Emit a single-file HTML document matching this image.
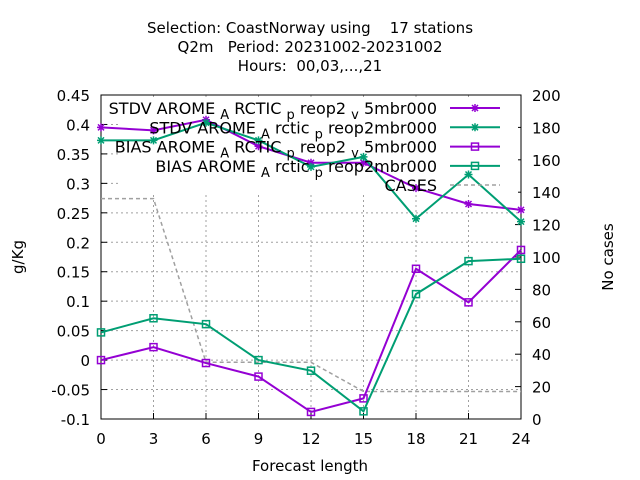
<!DOCTYPE html>
<html><head><meta charset="utf-8"><style>body{margin:0;background:#fff}svg{display:block;font-family:"DejaVu Sans","Liberation Sans",sans-serif}text{white-space:pre}</style></head>
<body>
<svg id="c" width="640" height="480"></svg>
<script>
const xCats=[0,3,6,9,12,15,18,21,24];
const stdvA=[0.395,0.39,0.408,0.363,0.335,0.335,0.292,0.265,0.255];
const stdvB=[0.373,0.373,0.403,0.373,0.328,0.345,0.24,0.315,0.235];
const biasA=[0.0,0.022,-0.005,-0.028,-0.088,-0.065,0.155,0.098,0.187];
const biasB=[0.047,0.071,0.061,0.0,-0.018,-0.087,0.112,0.168,0.172];
const cases=[136,136,35,35,35,17,17,17,17];
const yTicks=[-0.1,-0.05,0,0.05,0.1,0.15,0.2,0.25,0.3,0.35,0.4,0.45];
const y2Ticks=[0,20,40,60,80,100,120,140,160,180,200];
const L=101,R=521,T=95,B=419;
const X=v=>L+(v-0)/24*(R-L);
const Y=v=>B-(v+0.1)/0.55*(B-T);
const Y2=v=>B-v/200*(B-T);
const svg=document.getElementById('c');const NS='http://www.w3.org/2000/svg';
function el(t,a,p){const e=document.createElementNS(NS,t);for(const k in a)e.setAttribute(k,a[k]);(p||svg).appendChild(e);return e;}
function tx(x,y,s,anchor,name,extra){const e=el('text',Object.assign({x:x,y:y,'font-size':15,'text-anchor':anchor||'middle',fill:'#000'},extra||{}));e.textContent=s;return e;}
tx(310,33,'Selection: CoastNorway using    17 stations','middle','title-line1');
tx(310,52,'Q2m   Period: 20231002-20231002','middle','title-line2');
tx(310,71,'Hours:  00,03,...,21','middle','title-line3');
yTicks.forEach(v=>{const g=el('line',{x1:L,x2:R,y1:Y(v),y2:Y(v),stroke:'#a0a0a0','stroke-dasharray':'2,3'});
const t=el('line',{x1:L,x2:L+6,y1:Y(v),y2:Y(v),stroke:'#000'});
tx(L-11,Y(v)+6,String(v),'end','y-tick-label');});
xCats.forEach(v=>{const g=el('line',{x1:X(v),x2:X(v),y1:T,y2:B,stroke:'#a0a0a0','stroke-dasharray':'2,3'});
const t=el('line',{x1:X(v),x2:X(v),y1:B,y2:B-6,stroke:'#000'});
tx(X(v),B+25,String(v),'middle','x-tick-label');});
y2Ticks.forEach(v=>{const t=el('line',{x1:R-6,x2:R,y1:Y2(v),y2:Y2(v),stroke:'#000'});
tx(R+11,Y2(v)+6,String(v),'start','y2-tick-label');});
const lb=el('rect',{x:118,y:98,width:400,height:96,fill:'#fff'});
const fr=el('rect',{x:L,y:T,width:R-L,height:B-T,fill:'none',stroke:'#000'});
tx(310,471,'Forecast length','middle','x-axis-title');
tx(23,257,'g/Kg','middle','y-axis-title',{transform:'rotate(-90 23 257)'});
tx(613,257,'No cases','middle','y2-axis-title',{transform:'rotate(-90 613 257)'});
function star(x,y,c,g){el('path',{d:`M${x-4},${y}h8M${x},${y-4}v8M${x-3},${y-3}l6,6M${x-3},${y+3}l6,-6`,stroke:c,'stroke-width':1.5},g);}
function sq(x,y,c,g){el('rect',{x:x-3.5,y:y-3.5,width:7,height:7,fill:'none',stroke:c,'stroke-width':1.5},g);}
function series(vals,c,mk,name,fy,dash){const g=el('g',{});
const pts=vals.map((v,i)=>X(xCats[i])+','+fy(v)).join(' ');
el('polyline',{points:pts,fill:'none',stroke:c,'stroke-width':dash?1.5:2,'stroke-dasharray':dash||'none'},g);
if(mk)vals.forEach((v,i)=>mk(X(xCats[i]),fy(v),c,g));}
series(cases,'#a0a0a0',null,'series-cases',Y2,'4,3');
series(stdvA,'#9400d3',star,'series-stdv-arctic-v5',Y);
series(stdvB,'#009e73',star,'series-stdv-arctic',Y);
series(biasA,'#9400d3',sq,'series-bias-arctic-v5',Y);
series(biasB,'#009e73',sq,'series-bias-arctic',Y);
const leg=[['STDV AROME','A','RCTIC','p','reop2','v','5mbr000','#9400d3',star],
['STDV AROME','A','rctic','p','reop2mbr000','','','#009e73',star],
['BIAS AROME','A','RCTIC','p','reop2','v','5mbr000','#9400d3',sq],
['BIAS AROME','A','rctic','p','reop2mbr000','','','#009e73',sq]];
leg.forEach((l,i)=>{const y=108+i*19.3;const g=el('g',{});
const t=el('text',{x:437,y:y+6,'font-size':16,'text-anchor':'end'},g);
let h=`${l[0]} <tspan font-size="13" dy="5">${l[1]}</tspan><tspan dy="-5"> ${l[2]} </tspan><tspan font-size="13" dy="5">${l[3]}</tspan><tspan dy="-5"> ${l[4]}</tspan>`;
if(l[5])h+=` <tspan font-size="13" dy="5">${l[5]}</tspan><tspan dy="-5"> ${l[6]}</tspan>`;
t.innerHTML=h;
el('line',{x1:450,x2:500,y1:y,y2:y,stroke:l[7],'stroke-width':2},g);l[8](475,y,l[7],g);});
const cg=el('g',{});
el('text',{x:437,y:191,'font-size':16,'text-anchor':'end'},cg).textContent='CASES';
el('line',{x1:450,x2:500,y1:185,y2:185,stroke:'#a0a0a0','stroke-width':1.5,'stroke-dasharray':'4,3'},cg);
</script>
</body></html>
